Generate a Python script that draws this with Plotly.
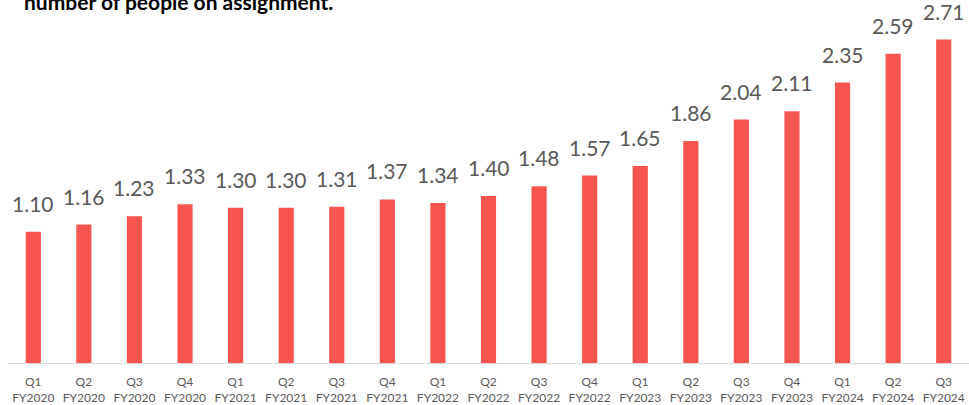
import plotly.graph_objects as go

quarters = ["Q1", "Q2", "Q3", "Q4", "Q1", "Q2", "Q3", "Q4", "Q1", "Q2", "Q3", "Q4",
            "Q1", "Q2", "Q3", "Q4", "Q1", "Q2", "Q3"]
fiscal_years = ["FY2020"] * 4 + ["FY2021"] * 4 + ["FY2022"] * 4 + ["FY2023"] * 4 + ["FY2024"] * 3
values = [1.10, 1.16, 1.23, 1.33, 1.30, 1.30, 1.31, 1.37, 1.34, 1.40, 1.48, 1.57,
          1.65, 1.86, 2.04, 2.11, 2.35, 2.59, 2.71]
title_text = "number of people on assignment."

labels = [f"{q}<br>{fy}" for q, fy in zip(quarters, fiscal_years)]

fig = go.Figure()
fig.add_trace(go.Bar(
    x=labels, y=values,
    marker=dict(color="#F85450", line=dict(width=0)),
    hoverinfo="skip",
))

for lab, v in zip(labels, values):
    fig.add_annotation(
        x=lab, y=v, xref="x", yref="y", text=f"{v:.2f}", showarrow=False,
        yanchor="bottom", yshift=14,
        font=dict(family="Lato", size=21, color="#595959"),
    )

fig.add_annotation(
    x=(22 - 8) / 961, y=1.042, xref="paper", yref="paper", text=f"<b>{title_text}</b>",
    showarrow=False, xanchor="left", yanchor="bottom",
    font=dict(family="Lato", size=21, color="#000000"),
)

fig.update_layout(
    width=969, height=405,
    margin=dict(l=8, r=0, t=30, b=42),
    paper_bgcolor="white", plot_bgcolor="white",
    bargap=0.7, showlegend=False,
    xaxis=dict(
        type="category", showgrid=False, showline=True, linecolor="#D9D9D9", linewidth=1,
        ticks="", ticklabelstandoff=8,
        tickfont=dict(family="Lato", size=12, color="#595959"),
        fixedrange=True,
    ),
    yaxis=dict(range=[0, 2.79], visible=False, showgrid=False, fixedrange=True),
)

fig.write_html("out.html")
